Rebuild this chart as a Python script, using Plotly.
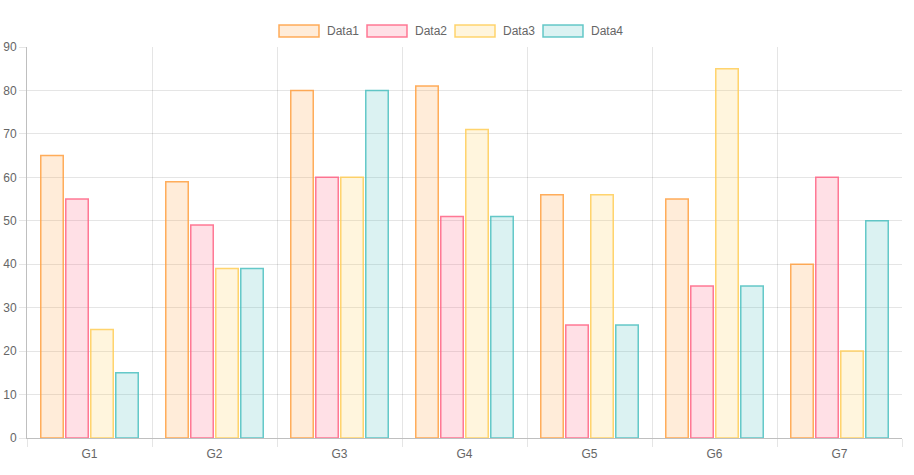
import plotly.graph_objects as go

categories = ["G1", "G2", "G3", "G4", "G5", "G6", "G7"]
series_names = ["Data1", "Data2", "Data3", "Data4"]
data1 = [65, 59, 80, 81, 56, 55, 40]
data2 = [55, 49, 60, 51, 26, 35, 60]
data3 = [25, 39, 60, 71, 56, 85, 20]
data4 = [15, 39, 80, 51, 26, 35, 50]
y_ticks = [0, 10, 20, 30, 40, 50, 60, 70, 80, 90]

series_values = [data1, data2, data3, data4]
rgb = ["255,159,64", "255,99,132", "255,205,86", "75,192,192"]

FONT = "Arial, Liberation Sans, Helvetica, sans-serif"

fig = go.Figure()
for name, vals, c in zip(series_names, series_values, rgb):
    fig.add_trace(go.Bar(
        x=categories, y=vals, name=name,
        marker=dict(color=f"rgba({c},0.2)", line=dict(color=f"rgba({c},0.85)", width=1.5)),
        showlegend=False,
    ))

# Chart.js-style legend (wide boxes)
W, H = 914, 475
L, R, T, B = 27, 12, 47, 37
PW, PH = W - L - R, H - T - B
box_w, gap, item_w = 40, 6, 88
start = 279
for i, (name, c) in enumerate(zip(series_names, rgb)):
    x0 = start + i * item_w
    fig.add_shape(type="rect", xref="paper", yref="paper",
                  x0=(x0 - L) / PW, x1=(x0 + box_w - L) / PW,
                  y0=(PH + T - 37) / PH, y1=(PH + T - 25) / PH,
                  fillcolor=f"rgba({c},0.2)", line=dict(color=f"rgba({c},0.85)", width=1.5))
    fig.add_annotation(xref="paper", yref="paper",
                       x=(x0 + box_w + gap - L) / PW, y=(PH + T - 31) / PH,
                       text=name, showarrow=False, xanchor="left", yanchor="middle",
                       font=dict(family=FONT, size=12, color="#666"))

fig.update_layout(
    width=W, height=H,
    margin=dict(l=L, r=R, t=T, b=B),
    paper_bgcolor="white", plot_bgcolor="white",
    barmode="group", bargap=0.2, bargroupgap=0.1,
    font=dict(family=FONT, size=12, color="#666"),
    xaxis=dict(
        type="category", tickson="boundaries", automargin=False,
        showgrid=True, gridcolor="rgba(0,0,0,0.1)", gridwidth=1,
        ticks="outside", ticklen=8, tickcolor="rgba(0,0,0,0.1)",
        ticklabelstandoff=5,
        showline=True, linecolor="rgba(0,0,0,0.25)", linewidth=1,
        tickfont=dict(family=FONT, size=12, color="#666"),
    ),
    yaxis=dict(
        range=[0, 90], tickvals=y_ticks, automargin=False,
        showgrid=True, gridcolor="rgba(0,0,0,0.1)", gridwidth=1,
        ticks="outside", ticklen=7, tickcolor="rgba(0,0,0,0.1)",
        showline=True, linecolor="rgba(0,0,0,0.25)", linewidth=1,
        zeroline=False,
        tickfont=dict(family=FONT, size=12, color="#666"),
    ),
)

fig.write_html("out.html", config={"displayModeBar": False},
               post_script="document.body.style.margin='0px';")
